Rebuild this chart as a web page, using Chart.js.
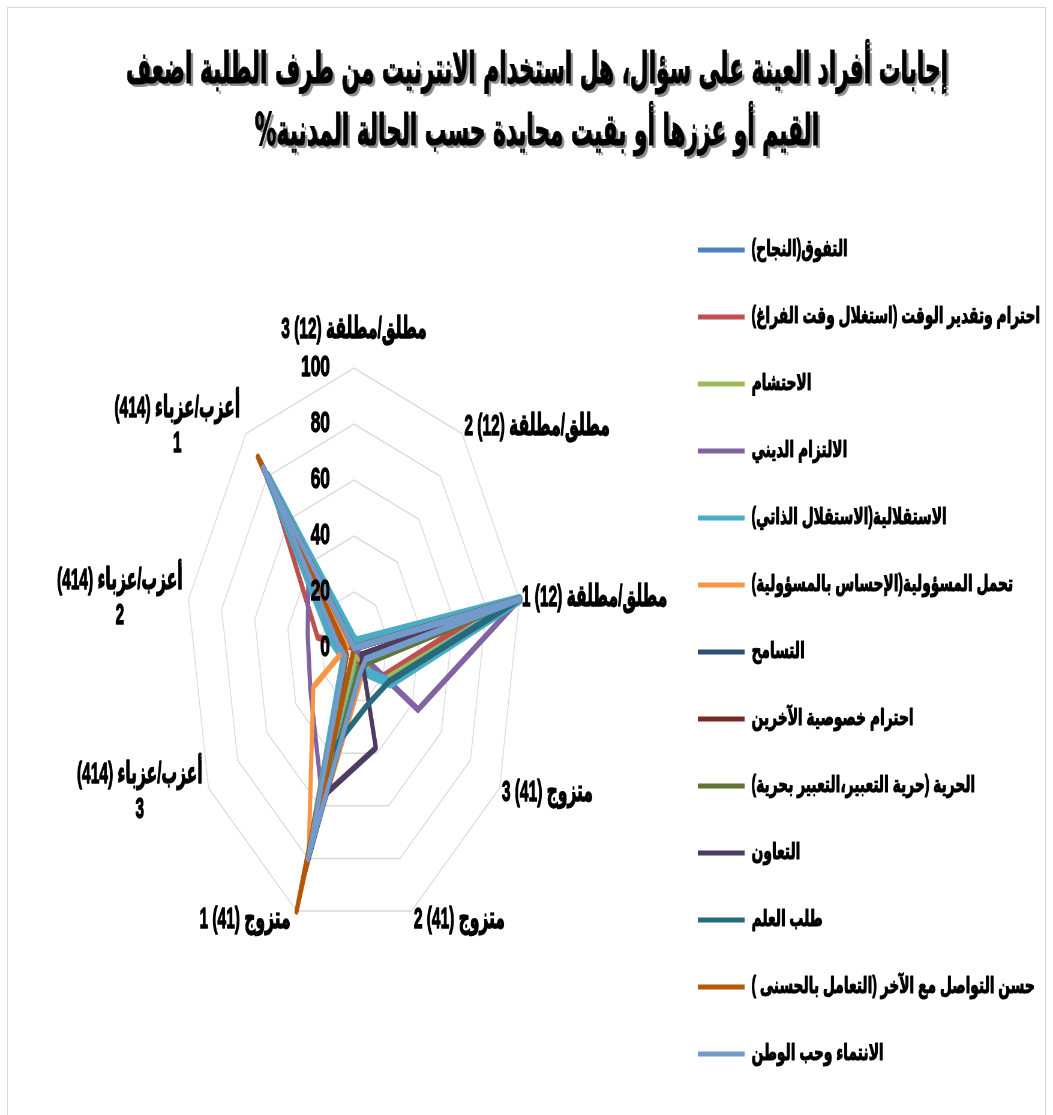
<!DOCTYPE html>
<html lang="ar">
<head>
<meta charset="utf-8">
<script src="https://cdn.jsdelivr.net/npm/chart.js@4.4.1/dist/chart.umd.min.js"></script>
<style>
  html, body { margin: 0; padding: 0; background: #fff; width: 1053px; height: 1115px; overflow: hidden; }
  #frame { position: absolute; left: 7px; top: 7px; width: 1039px; height: 1130px; border: 1px solid #d9d9d9; box-sizing: border-box; }
  #stage { position: absolute; left: 0; top: 0; width: 1755px; height: 1115px; transform: scaleX(0.6); transform-origin: 0 0; }
  #title { position: absolute; left: 0; top: 37px; width: 1790px; text-align: center; direction: rtl;
           font: bold 44px "DejaVu Sans", sans-serif; line-height: 62px; color: #000;
           transform: scaleX(0.82); transform-origin: 895px 0;
           -webkit-text-stroke: 1.2px #000;
           text-shadow: 5px 3px 1px #8c8c8c; }
  #chartBox { position: absolute; left: 0; top: 0; width: 1755px; height: 1115px; }
  #chartBox canvas { direction: rtl; }
</style>
</head>
<body>
<div id="frame"></div>
<div id="stage">
  <div id="chartBox"><canvas id="radar"></canvas></div>
  <div id="title">إجابات أفراد العينة على سؤال، هل استخدام الانترنيت من طرف الطلبة اضعف<br>القيم أو عززها أو بقيت محايدة حسب الحالة المدنية%</div>
</div>
<script>
// Axes, clockwise from the top
const categories = [
  'مطلق/مطلقة (12) 3',
  'مطلق/مطلقة (12) 2',
  'مطلق/مطلقة (12) 1',
  'متزوج (41) 3',
  'متزوج (41) 2',
  'متزوج (41) 1',
  ['أعزب/عزباء (414)', '3'],
  ['أعزب/عزباء (414)', '2'],
  ['أعزب/عزباء (414)', '1']
];

const tickValues = [0, 20, 40, 60, 80, 100];

// Values (%) per value, in the same axis order
const tafawwuq    = [0, 0, 100, 10, 6, 84, 5, 10, 85];
const ihtiramWaqt = [0, 0, 83, 20, 5, 78, 0, 22, 78];
const ihtisham    = [0, 0, 100, 22, 3, 72, 6, 8, 86];
const iltizamDini = [0, 0, 100, 44, 0, 56, 30, 28, 42];
const istiqlaliya = [3, 3, 100, 25, 8, 76, 7, 13, 80];
const masuliya    = [0, 0, 100, 5, 12, 79, 28, 4, 68];
const tasamuh     = [0, 0, 100, 7, 10, 83, 5, 9, 86];
const khususiya   = [0, 0, 100, 7, 8, 85, 5, 8, 87];
const hurriya     = [0, 0, 100, 10, 8, 82, 6, 9, 85];
const taawun      = [0, 0, 100, 5, 38, 57, 5, 9, 86];
const talabIlm    = [0, 0, 100, 24, 22, 39, 5, 10, 85];
const tawasul     = [0, 0, 100, 0, 0, 100, 5, 6, 89];
const intima      = [0, 0, 100, 8, 10, 80, 6, 10, 84];

const seriesNames = [
  'التفوق(النجاح)',
  'احترام وتقدير الوقت (استغلال وقت الفراغ)',
  'الاحتشام',
  'الالتزام الديني',
  'الاستقلالية(الاستقلال الذاتي)',
  'تحمل المسؤولية(الإحساس بالمسؤولية)',
  'التسامح',
  'احترام خصوصية الآخرين',
  'الحرية (حرية التعبير،التعبير بحرية)',
  'التعاون',
  'طلب العلم',
  'حسن التواصل مع الآخر (التعامل بالحسنى )',
  'الانتماء وحب الوطن'
];
const seriesValues = [tafawwuq, ihtiramWaqt, ihtisham, iltizamDini, istiqlaliya, masuliya,
                      tasamuh, khususiya, hurriya, taawun, talabIlm, tawasul, intima];
const seriesColors = ['#4F81BD', '#C0504D', '#9BBB59', '#8064A2', '#4BACC6', '#F79646',
                      '#2C4D75', '#772C2A', '#5F7530', '#4D3B62', '#276A7C', '#B65708', '#729ACA'];
const seriesWidths = [7, 7, 7, 7, 11, 7, 7, 7, 7, 7, 7, 7, 7];

const FONT_FAMILY = '"Liberation Sans", "DejaVu Sans", sans-serif';
const STAGE_W = 1755;
const LEGEND_BOX_X = 1173;
const LEGEND_BOX_W = 78;
const LEGEND_FONT = 23;
const LEGEND_GAP = 44;

// reserve room on the right so the legend swatches start at LEGEND_BOX_X
const meas = document.createElement('canvas').getContext('2d');
meas.direction = 'rtl';
meas.font = 'bold ' + LEGEND_FONT + 'px ' + FONT_FAMILY;
const widestName = Math.max(...seriesNames.map(n => meas.measureText(n).width));
const rightPad = Math.max(0, STAGE_W - LEGEND_BOX_X - (LEGEND_BOX_W + LEGEND_FONT / 2 + widestName));

// heavy text: fill plus a thin outline, optionally narrowed
function heavyText(ctx, str, x, y, narrow) {
  ctx.save();
  ctx.translate(x, y);
  ctx.scale(narrow, 1);
  ctx.lineJoin = 'round';
  ctx.strokeText(str, 0, 0);
  ctx.fillText(str, 0, 0);
  ctx.restore();
}

// category labels and value labels, placed from the radial scale
const radarText = {
  id: 'radarText',
  afterDatasetsDraw(chart) {
    const sc = chart.scales.r;
    const ctx = chart.ctx;
    ctx.save();
    ctx.fillStyle = '#000';
    ctx.strokeStyle = '#000';
    ctx.lineWidth = 1.3;
    ctx.textBaseline = 'middle';

    ctx.font = 'bold 29px ' + FONT_FAMILY;
    ctx.textAlign = 'right';
    sc.ticks.forEach(t => {
      heavyText(ctx, String(t.value), sc.xCenter - 40, sc.yCenter - sc.getDistanceFromCenterForValue(t.value), 1);
    });

    const narrow = 0.86;
    ctx.font = 'bold 30px ' + FONT_FAMILY;
    ctx.textAlign = 'center';
    const lineH = 35;
    chart.data.labels.forEach((lab, i) => {
      const lines = Array.isArray(lab) ? lab : [lab];
      const p = sc.getPointPosition(i, sc.drawingArea);
      const a = sc.getIndexAngle(i);
      const s = Math.sin(a), c = Math.cos(a);
      const w = narrow * Math.max(...lines.map(l => ctx.measureText(l).width));
      let cx, cy;
      if (Math.abs(s) < 0.1) { cx = p.x; cy = p.y - 38; }
      else {
        cx = s > 0 ? p.x + 4 + w / 2 : p.x - 10 - w / 2;
        cy = p.y - 9 * c;
      }
      const top = cy - (lines.length - 1) * lineH / 2;
      lines.forEach((l, k) => heavyText(ctx, l, cx, top + k * lineH, narrow));
    });
    ctx.restore();
  },
  // thicken the legend lettering drawn by the legend plugin
  afterDraw(chart) {
    const lg = chart.legend;
    if (!lg || !lg.legendHitBoxes) return;
    const ctx = chart.ctx;
    ctx.save();
    ctx.font = 'bold ' + LEGEND_FONT + 'px ' + FONT_FAMILY;
    ctx.textAlign = 'left';
    ctx.textBaseline = 'middle';
    ctx.strokeStyle = '#000';
    ctx.lineWidth = 1.1;
    ctx.lineJoin = 'round';
    lg.legendItems.forEach((item, i) => {
      const hb = lg.legendHitBoxes[i];
      ctx.strokeText(item.text, hb.left + LEGEND_BOX_W + LEGEND_FONT / 2, hb.top + hb.height / 2);
    });
    ctx.restore();
  }
};

const datasets = seriesNames.map((name, i) => ({
  label: name,
  data: seriesValues[i],
  borderColor: seriesColors[i],
  backgroundColor: seriesColors[i],
  borderWidth: seriesWidths[i],
  borderJoinStyle: 'round',
  fill: false,
  pointRadius: 0,
  pointHoverRadius: 0,
  order: seriesNames.length - i
}));

new Chart(document.getElementById('radar'), {
  type: 'radar',
  data: { labels: categories, datasets },
  plugins: [radarText],
  options: {
    responsive: true,
    maintainAspectRatio: false,
    animation: false,
    layout: { padding: { top: 189, right: rightPad, bottom: 0, left: 0 } },
    elements: { line: { tension: 0 } },
    scales: {
      r: {
        min: 0,
        max: 100,
        ticks: { stepSize: 20, display: false },
        afterBuildTicks(scale) { scale.ticks = tickValues.map(v => ({ value: v })); },
        pointLabels: { display: false },
        angleLines: { display: false },
        grid: { color: '#d9d9d9', lineWidth: 1.5 },
        afterFit(scale) {
          scale.xCenter = 590;
          scale.yCenter = 648;
          scale.drawingArea = 280;
        }
      }
    },
    plugins: {
      title: { display: false },
      tooltip: { enabled: false },
      legend: {
        position: 'right',
        align: 'center',
        labels: {
          color: '#000',
          boxWidth: LEGEND_BOX_W,
          boxHeight: 5,
          padding: LEGEND_GAP,
          font: { family: FONT_FAMILY, size: LEGEND_FONT, weight: 'bold' },
          sort: (a, b) => a.datasetIndex - b.datasetIndex,
          generateLabels(chart) {
            const items = Chart.defaults.plugins.legend.labels.generateLabels(chart);
            items.forEach(it => { it.lineWidth = 0; it.fillStyle = it.strokeStyle; });
            return items;
          }
        }
      }
    }
  }
});
</script>
</body>
</html>
